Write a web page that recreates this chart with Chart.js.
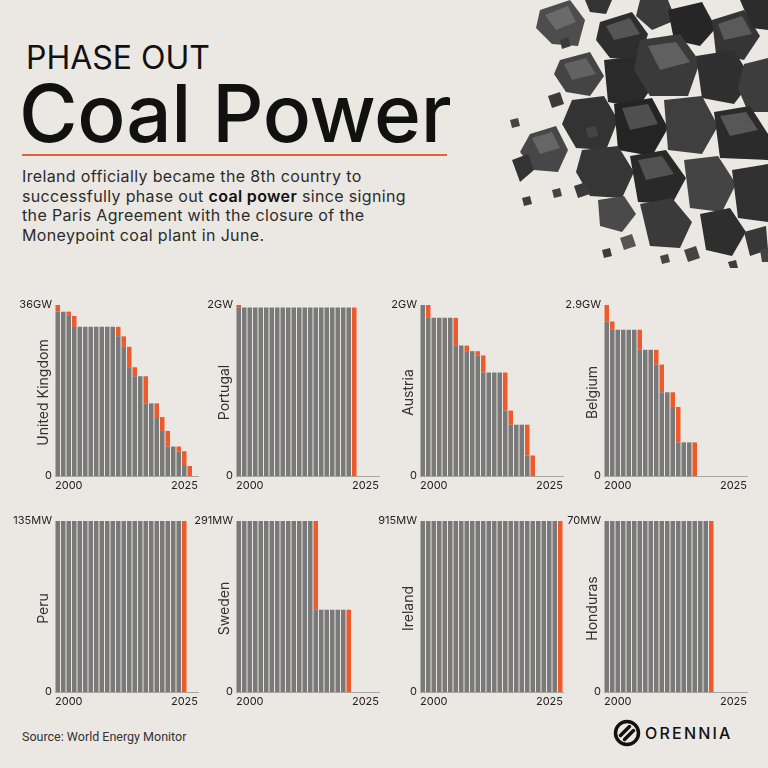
<!DOCTYPE html>
<html>
<head>
<meta charset="utf-8">
<script src="https://cdn.jsdelivr.net/npm/chart.js@4.4.1/dist/chart.umd.min.js"></script>
<style>
  html, body { margin: 0; padding: 0; }
  body {
    width: 768px; height: 768px; position: relative; overflow: hidden;
    background: #ebe8e3; font-family: Inter, "Noto Sans", sans-serif; color: #111;
  }
  .abs { position: absolute; white-space: nowrap; }
  #kicker { left: 26px; top: 42px; font-size: 32px; line-height: 1; font-weight: 400; }
  #headline { left: 19px; top: 73px; font-size: 80px; line-height: 1; font-weight: 500; letter-spacing: -0.3px; }
  #rule { left: 22px; top: 154px; width: 425px; height: 2px; background: #e8613a; }
  #intro { left: 22px; top: 167px; font-size: 16px; line-height: 19.5px; letter-spacing: 0.35px; color: #2b2b2b; }
  #intro b { color: #111; font-weight: 600; }
  #source { left: 22px; top: 729px; font-family: Roboto, sans-serif; font-size: 12.5px; color: #333; }
  #brand { left: 645px; top: 723px; font-size: 16px; line-height: 20px; font-weight: 500; letter-spacing: 2.2px; color: #111; }
  #logo { left: 613px; top: 719px; }
  #coal { left: 500px; top: 0; }
  canvas { position: absolute; }
</style>
</head>
<body>
<!-- decorative coal heap, top right -->
<svg id="coal" class="abs" width="268" height="270" viewBox="500 0 268 270">
  <polygon points="540,10 570,0 585,20 578,46 552,44 536,28" fill="#4d4d4d"/>
  <polygon points="545,15 568,6 576,22 556,30" fill="#6a6a6a"/>
  <polygon points="585,0 612,0 606,14 590,12" fill="#333"/>
  <polygon points="600,22 632,12 648,34 640,60 610,58 596,40" fill="#2e2e2e"/>
  <polygon points="606,26 630,18 640,34 614,40" fill="#555"/>
  <polygon points="640,0 668,0 676,20 652,30 636,16" fill="#3b3b3b"/>
  <polygon points="668,10 702,2 716,28 700,46 674,40" fill="#262626"/>
  <polygon points="712,20 744,10 760,36 744,60 716,54" fill="#353535"/>
  <polygon points="718,24 742,16 752,34 724,40" fill="#5a5a5a"/>
  <polygon points="740,0 768,0 768,30 752,28" fill="#2c2c2c"/>
  <polygon points="560,60 590,52 604,76 590,96 566,92 554,74" fill="#444"/>
  <polygon points="564,64 586,58 596,74 572,80" fill="#626262"/>
  <polygon points="604,60 640,56 654,84 638,108 608,102" fill="#2a2a2a"/>
  <polygon points="640,40 680,34 700,62 688,96 650,96 634,70" fill="#3a3a3a"/>
  <polygon points="648,46 676,42 690,62 660,70" fill="#606060"/>
  <polygon points="696,56 734,50 752,80 734,104 702,98" fill="#2f2f2f"/>
  <polygon points="744,64 768,58 768,112 748,112 738,88" fill="#3d3d3d"/>
  <polygon points="572,100 604,96 618,120 606,150 576,148 562,124" fill="#333"/>
  <polygon points="614,104 652,98 668,128 652,156 618,150" fill="#242424"/>
  <polygon points="622,108 648,104 658,124 630,130" fill="#4f4f4f"/>
  <polygon points="664,100 702,96 718,126 702,154 668,150" fill="#3f3f3f"/>
  <polygon points="714,112 750,106 768,134 768,160 720,158" fill="#2b2b2b"/>
  <polygon points="720,116 746,112 758,130 730,136" fill="#575757"/>
  <polygon points="530,134 556,126 568,150 558,172 534,170 520,152" fill="#474747"/>
  <polygon points="532,138 552,132 560,148 540,154" fill="#666"/>
  <polygon points="512,160 528,154 534,170 520,182" fill="#333"/>
  <polygon points="582,150 618,146 634,172 622,198 590,196 576,172" fill="#363636"/>
  <polygon points="630,156 666,150 686,178 672,204 638,202" fill="#292929"/>
  <polygon points="638,160 662,156 674,174 646,180" fill="#525252"/>
  <polygon points="684,160 718,156 736,184 722,212 690,208" fill="#444"/>
  <polygon points="732,170 768,164 768,222 738,218" fill="#303030"/>
  <polygon points="640,204 672,198 692,222 680,248 650,246" fill="#3a3a3a"/>
  <polygon points="700,214 730,208 746,232 732,256 706,250" fill="#2e2e2e"/>
  <polygon points="598,200 624,196 636,214 622,232 600,226" fill="#4a4a4a"/>
  <polygon points="744,232 766,226 768,250 750,256" fill="#383838"/>
  <polygon points="560,40 568,37 571,46 562,49" fill="#3a3a3a"/>
  <polygon points="548,96 560,92 564,104 552,108" fill="#3a3a3a"/>
  <polygon points="586,128 596,126 598,136 588,138" fill="#444"/>
  <polygon points="574,186 586,182 590,194 578,198" fill="#3a3a3a"/>
  <polygon points="620,238 632,234 636,246 624,250" fill="#555"/>
  <polygon points="684,250 696,246 700,258 688,262" fill="#444"/>
  <polygon points="510,120 518,118 520,126 512,128" fill="#444"/>
  <polygon points="522,198 530,196 532,204 524,206" fill="#3d3d3d"/>
  <polygon points="552,190 560,188 562,196 554,198" fill="#444"/>
  <polygon points="602,250 610,248 612,256 604,258" fill="#3d3d3d"/>
  <polygon points="660,256 668,254 670,262 662,264" fill="#444"/>
  <polygon points="728,262 736,260 738,268 730,268" fill="#3d3d3d"/>
  <polygon points="760,250 768,248 768,262 762,262" fill="#444"/>
</svg>

<div id="kicker" class="abs">PHASE OUT</div>
<div id="headline" class="abs">Coal Power</div>
<div id="rule" class="abs"></div>
<div id="intro" class="abs">Ireland officially became the 8th country to<br>successfully phase out <b>coal power</b> since signing<br>the Paris Agreement with the closure of the<br>Moneypoint coal plant in June.</div>

<div id="source" class="abs">Source: World Energy Monitor</div>
<svg id="logo" class="abs" width="28" height="28" viewBox="0 0 28 28">
  <circle cx="14" cy="14" r="11.5" fill="none" stroke="#111" stroke-width="3.5"/>
  <path d="M7.5 16.5 L16.5 7.5 M11.5 20.5 L20.5 11.5" stroke="#111" stroke-width="3.5" stroke-linecap="round"/>
</svg>
<div id="brand" class="abs">ORENNIA</div>

<script>
Chart.defaults.font.family = "Inter";

// data (capacity still operating, capacity retired that year)
const years = [2000, 2001, 2002, 2003, 2004, 2005, 2006, 2007, 2008, 2009, 2010, 2011, 2012,
  2013, 2014, 2015, 2016, 2017, 2018, 2019, 2020, 2021, 2022, 2023, 2024, 2025];
const xTickLabels = ["2000", "2025"];

const countries = ["United Kingdom", "Portugal", "Austria", "Belgium", "Peru", "Sweden", "Ireland", "Honduras"];
const axisMax = [36, 2, 2, 2.9, 135, 291, 915, 70];
const maxLabels = ["36GW", "2GW", "2GW", "2.9GW", "135MW", "291MW", "915MW", "70MW"];

const ukOperating = [34.6, 34.6, 33.7, 31.4, 31.4, 31.4, 31.4, 31.4, 31.4, 31.4, 31.4, 29.4, 27.2,
  22.9, 21.0, 21.0, 15.3, 15.3, 12.4, 9.5, 6.2, 6.2, 5.2, 2.1, 0];
const ukRetired = [1.4, 0, 0.9, 2.3, 0, 0, 0, 0, 0, 0, 0, 2.0, 2.2, 4.3, 1.9, 0, 5.7, 0, 2.9, 2.9,
  3.3, 0, 1.0, 3.1, 2.1];

const portugalOperating = [1.97, 1.97, 1.97, 1.97, 1.97, 1.97, 1.97, 1.97, 1.97, 1.97, 1.97,
  1.97, 1.97, 1.97, 1.97, 1.97, 1.97, 1.97, 1.97, 1.97, 1.97, 0];
const portugalRetired = [0.03, 0, 0, 0, 0, 0, 0, 0, 0, 0, 0, 0, 0, 0, 0, 0, 0, 0, 0, 0, 0, 1.97];

const austriaOperating = [2.0, 1.85, 1.85, 1.85, 1.85, 1.85, 1.525, 1.525, 1.46, 1.46, 1.41, 1.21,
  1.21, 1.21, 1.21, 0.765, 0.6, 0.6, 0.6, 0.24, 0];
const austriaRetired = [0, 0.15, 0, 0, 0, 0, 0.325, 0, 0.065, 0, 0.05, 0.2, 0, 0, 0, 0.445, 0.165,
  0, 0, 0.36, 0.24];

const belgiumOperating = [2.62, 2.48, 2.48, 2.48, 2.48, 2.48, 2.14, 2.14, 2.14, 1.89, 1.42, 1.42,
  1.17, 0.57, 0.57, 0.57, 0];
const belgiumRetired = [0.28, 0.14, 0, 0, 0, 0, 0.34, 0, 0, 0.25, 0.47, 0, 0.25, 0.6, 0, 0, 0.57];

const peruOperating = [135, 135, 135, 135, 135, 135, 135, 135, 135, 135, 135, 135, 135, 135, 135,
  135, 135, 135, 135, 135, 135, 135, 135, 0];
const peruRetired = [0, 0, 0, 0, 0, 0, 0, 0, 0, 0, 0, 0, 0, 0, 0, 0, 0, 0, 0, 0, 0, 0, 0, 135];

const swedenOperating = [291, 291, 291, 291, 291, 291, 291, 291, 291, 291, 291, 291, 291, 291,
  140, 140, 140, 140, 140, 140, 0];
const swedenRetired = [0, 0, 0, 0, 0, 0, 0, 0, 0, 0, 0, 0, 0, 0, 151, 0, 0, 0, 0, 0, 140];

const irelandOperating = [915, 915, 915, 915, 915, 915, 915, 915, 915, 915, 915, 915, 915, 915,
  915, 915, 915, 915, 915, 915, 915, 915, 915, 915, 915, 0];
const irelandRetired = [0, 0, 0, 0, 0, 0, 0, 0, 0, 0, 0, 0, 0, 0, 0, 0, 0, 0, 0, 0, 0, 0, 0, 0, 0, 915];

const hondurasOperating = [70, 70, 70, 70, 70, 70, 70, 70, 70, 70, 70, 70, 70, 70, 70, 70, 70, 70, 70, 0];
const hondurasRetired = [0, 0, 0, 0, 0, 0, 0, 0, 0, 0, 0, 0, 0, 0, 0, 0, 0, 0, 0, 70];

const operating = [ukOperating, portugalOperating, austriaOperating, belgiumOperating,
  peruOperating, swedenOperating, irelandOperating, hondurasOperating];
const retired = [ukRetired, portugalRetired, austriaRetired, belgiumRetired,
  peruRetired, swedenRetired, irelandRetired, hondurasRetired];

const GRAY = "#797979";
const ORANGE = "#ef5a2c";

// canvas placement of each small panel (left, top)
const panelLeft = [5, 186, 370, 554];
const panelTop = [291, 507];

const sideLabel = {
  id: "sideLabel",
  afterDraw(chart, args, opts) {
    const { ctx, chartArea } = chart;
    ctx.save();
    ctx.translate(chartArea.left - 11, (chartArea.top + chartArea.bottom) / 2 + 2);
    ctx.rotate(-Math.PI / 2);
    ctx.font = "14px Inter";
    ctx.fillStyle = "#333";
    ctx.textAlign = "center";
    ctx.textBaseline = "middle";
    ctx.fillText(opts.text, 0, 0);
    ctx.restore();
  },
};

function toPoints(values) {
  return values.map((v, i) => ({ x: years[i], y: v }));
}

for (let i = 0; i < countries.length; i++) {
  const canvas = document.createElement("canvas");
  canvas.width = 196;
  canvas.height = 205;
  canvas.style.left = panelLeft[i % 4] + "px";
  canvas.style.top = panelTop[Math.floor(i / 4)] + "px";
  document.body.appendChild(canvas);

  const top = axisMax[i];
  const topLabel = maxLabels[i];

  new Chart(canvas, {
    type: "bar",
    data: {
      datasets: [
        { data: toPoints(operating[i]), backgroundColor: GRAY, barPercentage: 0.82, categoryPercentage: 1 },
        { data: toPoints(retired[i]), backgroundColor: ORANGE, barPercentage: 0.82, categoryPercentage: 1 },
      ],
    },
    options: {
      responsive: false,
      animation: false,
      layout: { padding: { top: 14, right: 2, bottom: 0, left: 0 } },
      plugins: {
        legend: { display: false },
        tooltip: { enabled: false },
        sideLabel: { text: countries[i] },
      },
      scales: {
        x: {
          type: "linear",
          stacked: true,
          offset: false,
          min: 1999.5,
          max: 2025.5,
          grid: { display: false, drawTicks: false, offset: false },
          border: { display: true, color: "#a8a6a2", width: 1 },
          afterBuildTicks: (s) => { s.ticks = [{ value: 1999.5 }, { value: 2025.5 }]; },
          afterFit: (s) => { s.height = 20; },
          ticks: {
            align: "inner",
            autoSkip: false,
            maxRotation: 0,
            padding: 3,
            color: "#222",
            font: { size: 11 },
            callback: (v, idx) => xTickLabels[idx],
          },
        },
        y: {
          stacked: true,
          min: 0,
          max: top,
          grid: { display: false, drawTicks: false },
          border: { display: false },
          afterBuildTicks: (s) => { s.ticks = [{ value: 0 }, { value: top }]; },
          afterFit: (s) => { s.width = 50; },
          ticks: {
            padding: 3,
            color: "#222",
            font: { size: 11 },
            callback: (v, idx) => (idx === 0 ? "0" : topLabel),
          },
        },
      },
    },
    plugins: [sideLabel],
  });
}
</script>
</body>
</html>
